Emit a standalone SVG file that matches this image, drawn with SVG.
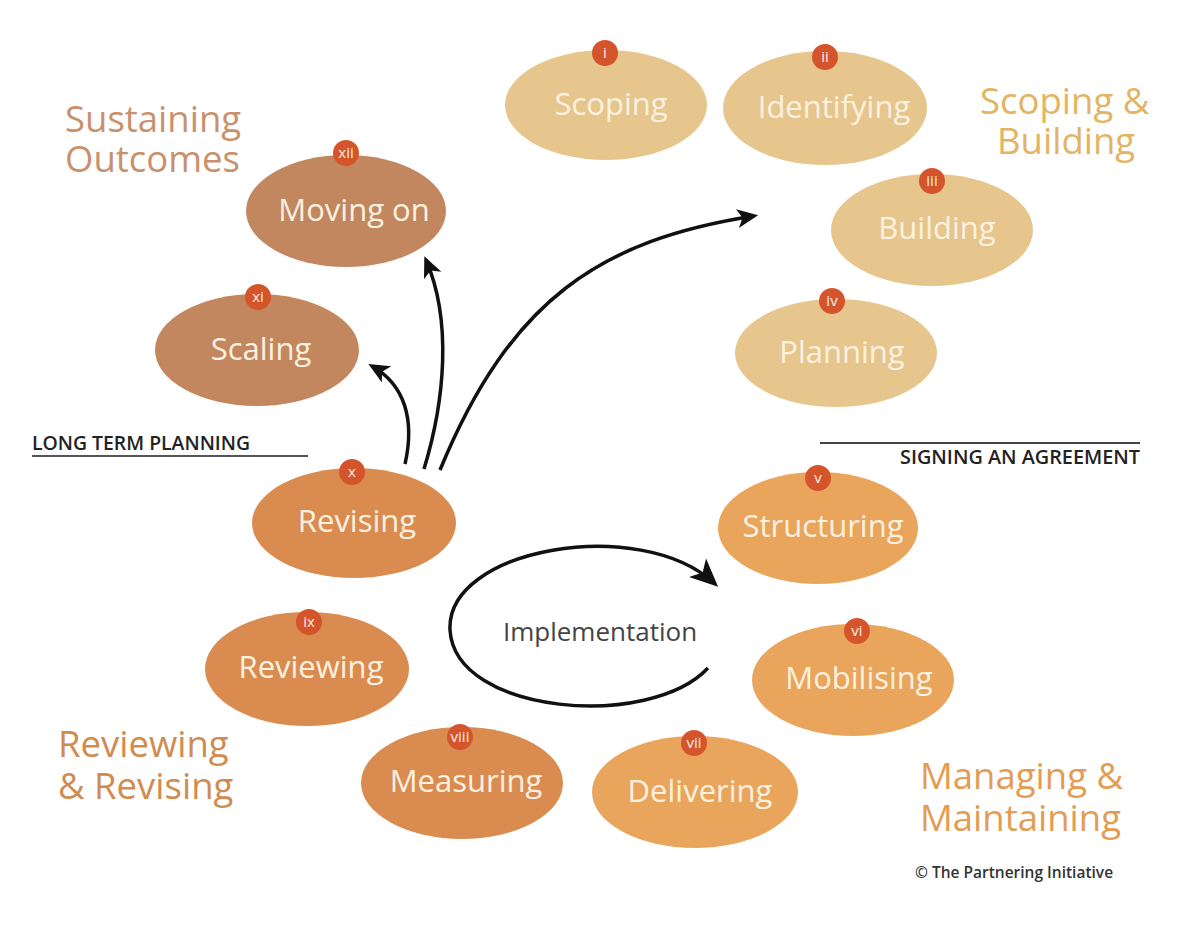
<svg xmlns="http://www.w3.org/2000/svg" width="1200" height="930" viewBox="0 0 1200 930">
<defs>
<marker id="ah" viewBox="0 0 10 10" refX="8" refY="5" markerWidth="6" markerHeight="6" orient="auto" markerUnits="strokeWidth">
<path d="M0,0.5 L10,5 L0,9.5 L2.5,5 Z" fill="#111"/>
</marker>
<marker id="ahb" viewBox="0 0 10 10" refX="8" refY="5" markerWidth="8" markerHeight="8" orient="auto" markerUnits="strokeWidth">
<path d="M0,0.5 L10,5 L0,9.5 L2.5,5 Z" fill="#111"/>
</marker>
</defs>
<style>
text{font-family:"Open Sans","Noto Sans","Liberation Sans",sans-serif}
.lbl{fill:#FBF1E0;font-size:31px;text-anchor:middle}
.num{fill:#FBEDE0;font-size:15px;text-anchor:middle}
.badge{fill:#D4552C}
.t1{fill:#E6C68C}
.t2{fill:#E9A55C}
.t3{fill:#DA8C50}
.t4{fill:#C2875F}
.title{font-size:36.5px}
.cap{font-size:20px;fill:#222;font-weight:600}
.conn{fill:none;stroke:#111;stroke-width:3.5}
</style>
<rect width="1200" height="930" fill="#fff"/>

<g id="titles">
<text class="title" x="65" y="132" fill="#C9916B">Sustaining</text>
<text class="title" x="65" y="172" fill="#C9916B">Outcomes</text>
<text class="title" x="980" y="114" fill="#E2B463">Scoping &amp;</text>
<text class="title" x="997" y="154" fill="#E2B463">Building</text>
<text class="title" x="58" y="757" fill="#D08C50">Reviewing</text>
<text class="title" x="58" y="799" fill="#D08C50">&amp; Revising</text>
<text class="title" x="920" y="789" fill="#E39C52">Managing &amp;</text>
<text class="title" x="920" y="831" fill="#E39C52">Maintaining</text>
</g>

<g id="long-term">
<text class="cap" x="32" y="450" textLength="218" lengthAdjust="spacingAndGlyphs">LONG TERM PLANNING</text>
<line x1="32" y1="456" x2="308" y2="456" stroke="#555" stroke-width="2"/>
</g>
<g id="signing">
<line x1="820" y1="443" x2="1140" y2="443" stroke="#444" stroke-width="2"/>
<text class="cap" x="900" y="464" textLength="240" lengthAdjust="spacingAndGlyphs">SIGNING AN AGREEMENT</text>
</g>

<g id="n1"><ellipse class="t1" cx="606" cy="105" rx="101" ry="55"/><circle class="badge" cx="605" cy="53" r="13"/><text class="num" x="605" y="58">i</text><text class="lbl" x="611" y="115">Scoping</text></g>
<g id="n2"><ellipse class="t1" cx="825" cy="108" rx="102" ry="57"/><circle class="badge" cx="825" cy="57" r="13"/><text class="num" x="825" y="62">ii</text><text class="lbl" x="834" y="118">Identifying</text></g>
<g id="n3"><ellipse class="t1" cx="932" cy="230" rx="101" ry="56"/><circle class="badge" cx="932" cy="181" r="13"/><text class="num" x="932" y="186">iii</text><text class="lbl" x="937" y="239">Building</text></g>
<g id="n4"><ellipse class="t1" cx="836" cy="353" rx="101" ry="54"/><circle class="badge" cx="832" cy="301" r="13"/><text class="num" x="832" y="306">iv</text><text class="lbl" x="842" y="363">Planning</text></g>
<g id="n5"><ellipse class="t2" cx="818" cy="528" rx="100" ry="56"/><circle class="badge" cx="818" cy="478" r="13"/><text class="num" x="818" y="483">v</text><text class="lbl" x="823" y="537">Structuring</text></g>
<g id="n6"><ellipse class="t2" cx="853" cy="680" rx="101" ry="56"/><circle class="badge" cx="857" cy="631" r="13"/><text class="num" x="857" y="636">vi</text><text class="lbl" x="859" y="689">Mobilising</text></g>
<g id="n7"><ellipse class="t2" cx="695" cy="792" rx="103" ry="56"/><circle class="badge" cx="694" cy="743" r="13"/><text class="num" x="694" y="748">vii</text><text class="lbl" x="700" y="802">Delivering</text></g>
<g id="n8"><ellipse class="t3" cx="462" cy="783" rx="101" ry="56"/><circle class="badge" cx="460" cy="737" r="13"/><text class="num" x="460" y="742">viii</text><text class="lbl" x="466" y="792">Measuring</text></g>
<g id="n9"><ellipse class="t3" cx="307" cy="669" rx="102" ry="57"/><circle class="badge" cx="309" cy="622" r="13"/><text class="num" x="309" y="627">ix</text><text class="lbl" x="311" y="678">Reviewing</text></g>
<g id="n10"><ellipse class="t3" cx="354" cy="523" rx="102" ry="55"/><circle class="badge" cx="352" cy="472" r="13"/><text class="num" x="352" y="477">x</text><text class="lbl" x="357" y="532">Revising</text></g>
<g id="n11"><ellipse class="t4" cx="257" cy="350" rx="102" ry="56"/><circle class="badge" cx="258" cy="297" r="13"/><text class="num" x="258" y="302">xi</text><text class="lbl" x="261" y="360">Scaling</text></g>
<g id="n12"><ellipse class="t4" cx="346" cy="211" rx="100" ry="56"/><circle class="badge" cx="346" cy="153" r="13"/><text class="num" x="346" y="158">xii</text><text class="lbl" x="354" y="221">Moving on</text></g>

<text x="600" y="641" font-size="26" fill="#444" text-anchor="middle">Implementation</text>
<text x="915" y="878" font-size="15.5" fill="#333" font-weight="600">© The Partnering Initiative</text>

<g id="connectors">
<path class="conn" d="M405,464 C415,420 405,385 372,366" marker-end="url(#ah)"/>
<path class="conn" d="M424,469 C445,400 452,320 426,260" marker-end="url(#ah)"/>
<path class="conn" d="M440,470 C510,300 600,240 754,216" marker-end="url(#ah)"/>
<path class="conn" d="M708,668 C650,730 455,715 450,630 C446,548 640,515 714,583" marker-end="url(#ahb)"/>
</g>
</svg>
